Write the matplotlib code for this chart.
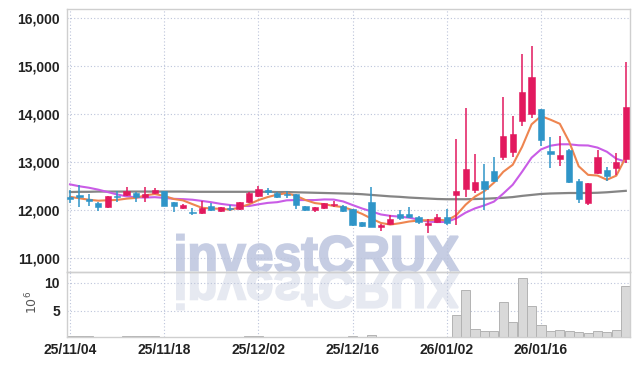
import matplotlib
matplotlib.use('Agg')
import matplotlib.pyplot as plt
import matplotlib.transforms as mtransforms
from matplotlib.textpath import TextPath
from matplotlib.patches import PathPatch
from matplotlib.font_manager import FontProperties
import numpy as np

dates = ['25/11/04', '25/11/05', '25/11/06', '25/11/07', '25/11/10', '25/11/11', '25/11/12', '25/11/13', '25/11/14', '25/11/17',
         '25/11/18', '25/11/19', '25/11/20', '25/11/21', '25/11/24', '25/11/25', '25/11/26', '25/11/27', '25/11/28', '25/12/01',
         '25/12/02', '25/12/03', '25/12/04', '25/12/05', '25/12/08', '25/12/09', '25/12/10', '25/12/11', '25/12/12', '25/12/15',
         '25/12/16', '25/12/17', '25/12/18', '25/12/19', '25/12/22', '25/12/23', '25/12/24', '25/12/26', '25/12/29', '25/12/30',
         '26/01/02', '26/01/05', '26/01/06', '26/01/07', '26/01/08', '26/01/09', '26/01/12', '26/01/13', '26/01/14', '26/01/15',
         '26/01/16', '26/01/19', '26/01/20', '26/01/21', '26/01/22', '26/01/23', '26/01/26', '26/01/27', '26/01/28', '26/01/29']

opens = [12270, 12310, 12230, 12150, 12060, 12290, 12310, 12370, 12270, 12350,
         12400, 12170, 12040, 11960, 11940, 12080, 11980, 12040, 12020, 12170,
         12290, 12420, 12370, 12340, 12330, 12080, 12000, 12040, 12100, 12080,
         12020, 11750, 12170, 11650, 11710, 11920, 11920, 11870, 11690, 11750,
         11870, 12310, 12440, 12420, 12600, 12810, 13100, 13210, 13850, 14000,
         14100, 13230, 13060, 13250, 12600, 12150, 12770, 12830, 12880, 13060]
highs = [12420, 12520, 12330, 12170, 12290, 12400, 12480, 12380, 12480, 12460,
         12400, 12170, 12130, 12040, 12190, 12150, 12070, 12120, 12170, 12380,
         12500, 12460, 12380, 12400, 12340, 12090, 12070, 12160, 12190, 12100,
         12030, 11760, 12480, 11710, 11900, 12000, 12060, 11880, 11810, 11920,
         12020, 13480, 14130, 13170, 12960, 13100, 14350, 13960, 15250, 15420,
         14120, 13520, 13540, 13270, 12650, 12570, 13250, 12900, 13190, 15080]
lows = [12150, 12060, 12080, 11980, 12040, 12170, 12300, 12170, 12170, 12340,
        12080, 11960, 12030, 11900, 11930, 11990, 11960, 11980, 12010, 12160,
        12280, 12310, 12260, 12250, 12020, 11990, 11960, 12030, 12060, 11970,
        11680, 11650, 11650, 11560, 11700, 11790, 11840, 11710, 11520, 11730,
        11690, 11700, 12270, 12350, 12000, 12590, 13040, 13100, 13750, 13920,
        13330, 12880, 12920, 12570, 12150, 12100, 12760, 12600, 12730, 12980]
closes = [12230, 12270, 12190, 12060, 12290, 12270, 12400, 12270, 12330, 12420,
          12080, 12080, 12120, 11940, 12040, 12000, 12060, 12020, 12170, 12370,
          12440, 12380, 12270, 12320, 12100, 12000, 12060, 12150, 12140, 11980,
          11690, 11670, 11650, 11690, 11810, 11830, 11850, 11750, 11730, 11870,
          11730, 12400, 12850, 12580, 12440, 12600, 13540, 13580, 14460, 14770,
          13460, 13170, 13150, 12580, 12230, 12560, 13100, 12710, 13000, 14150]
volumes = [0.45, 0.45, 0.45, 0.2, 0.2, 0.2, 0.45, 0.45, 0.45, 0.45,
           0.2, 0.2, 0.2, 0.2, 0.2, 0.2, 0.2, 0.2, 0.2, 0.45,
           0.45, 0.2, 0.2, 0.2, 0.2, 0.2, 0.2, 0.2, 0.2, 0.2,
           0.55, 0.2, 0.65, 0.2, 0.2, 0.2, 0.2, 0.2, 0.2, 0.2,
           0.2, 4.2, 8.8, 1.7, 1.4, 1.4, 6.5, 3.0, 10.8, 5.8,
           2.4, 1.4, 1.55, 1.4, 1.2, 1.0, 1.4, 1.2, 1.55, 9.4]
ma5 = [12280, 12250, 12220, 12200, 12208, 12216, 12242, 12258, 12312, 12338,
       12300, 12236, 12206, 12128, 12052, 12036, 12032, 12012, 12058, 12124,
       12212, 12276, 12326, 12356, 12302, 12214, 12150, 12126, 12090, 12066,
       12004, 11926, 11826, 11736, 11702, 11730, 11766, 11786, 11794, 11806,
       11786, 11896, 12116, 12286, 12400, 12574, 12802, 12948, 13324, 13790,
       13962, 13888, 13802, 13426, 12918, 12738, 12724, 12636, 12722, 13104]
ma10 = [12540, 12500, 12470, 12430, 12380, 12330, 12290, 12270, 12265, 12273,
        12258, 12239, 12232, 12220, 12195, 12168, 12134, 12109, 12093, 12088,
        12124, 12154, 12169, 12207, 12213, 12213, 12213, 12226, 12223, 12184,
        12109, 12038, 11976, 11913, 11884, 11867, 11846, 11806, 11765, 11754,
        11758, 11831, 11951, 12040, 12103, 12180, 12349, 12532, 12805, 13095,
        13268, 13345, 13375, 13375, 13354, 13350, 13306, 13219, 13073, 13011]
ma60 = [12380, 12385, 12385, 12390, 12390, 12390, 12390, 12390, 12390, 12390,
        12390, 12390, 12390, 12385, 12385, 12385, 12385, 12385, 12385, 12385,
        12385, 12385, 12380, 12380, 12375, 12370, 12365, 12360, 12355, 12350,
        12345, 12335, 12320, 12305, 12290, 12280, 12265, 12255, 12245, 12235,
        12230, 12230, 12230, 12235, 12240, 12250, 12260, 12275, 12300, 12320,
        12340, 12350, 12355, 12360, 12360, 12360, 12365, 12375, 12390, 12405]

price_ticks = [11000, 12000, 13000, 14000, 15000, 16000]
vol_ticks = [5, 10]

UP = '#e2195e'
DOWN = '#2f95c8'
GRID = '#bcc4da'
FRAME = '#cfcfcf'
LABEL_FONT = ['Liberation Sans Narrow', 'Liberation Sans', 'DejaVu Sans']

W, H = 639, 366
fig = plt.figure(figsize=(W / 100, H / 100), dpi=100, facecolor='white')

left, right = 66.7, 630.0
top_p, div, bot_v = 9.3, 272.3, 337.0
axp = fig.add_axes([left / W, 1 - div / H, (right - left) / W, (div - top_p) / H])
axv = fig.add_axes([left / W, 1 - bot_v / H, (right - left) / W, (bot_v - div) / H], sharex=axp)
for ax in (axp, axv):
    ax.set_facecolor('none')
    for s in ax.spines.values():
        s.set_color(FRAME)
        s.set_linewidth(1.0)

n = len(closes)
x = np.arange(n)
o = np.array(opens); c = np.array(closes); h = np.array(highs); l = np.array(lows)
up = c >= o
colors = np.where(up, UP, DOWN)

# wicks
axp.vlines(x, l, h, colors=colors, linewidth=1.1, zorder=3)
# bodies
bottoms = np.minimum(o, c)
heights = np.maximum(np.abs(c - o), 25)
axp.bar(x, heights, bottom=bottoms, width=0.66, color=colors, edgecolor=colors, linewidth=0.4, zorder=4)

# moving averages
axp.plot(x, ma60, color='#858585', linewidth=1.6, zorder=2)
axp.plot(x, ma10, color='#c95ce6', linewidth=1.5, zorder=2)
axp.plot(x, ma5, color='#ee8550', linewidth=1.5, zorder=2)

axp.set_xlim(-0.35, n - 0.55)
axp.set_ylim(10708, 16187)
axp.set_yticks(price_ticks)
axp.set_yticklabels([f'{t:,}' for t in price_ticks])
axp.grid(True, color=GRID, linestyle=(0, (1, 2)), linewidth=0.8)
axp.tick_params(axis='both', length=0)
axp.tick_params(axis='x', labelbottom=False)
axp.tick_params(axis='y', pad=4.8, labelsize=10, labelcolor='#222222')
for t in axp.get_yticklabels():
    t.set_family(LABEL_FONT); t.set_fontweight('bold')

# volume
axv.bar(x, volumes, width=0.97, color='#d9d9d9', edgecolor='#b3b3b3', linewidth=0.7, zorder=2)
axv.set_ylim(0.30, 11.91)
axv.set_yticks(vol_ticks)
axv.set_yticklabels([str(v) for v in vol_ticks])
tick_idx = list(range(0, n, 10))
axv.set_xticks(tick_idx)
axv.set_xticklabels([dates[i] for i in tick_idx])
axv.grid(True, color=GRID, linestyle=(0, (1, 2)), linewidth=0.8)
axv.tick_params(axis='both', length=0, labelsize=10, labelcolor='#222222')
axv.tick_params(axis='y', pad=4.8)
axv.tick_params(axis='x', pad=4.5)
for t in axv.get_yticklabels() + axv.get_xticklabels():
    t.set_family(LABEL_FONT); t.set_fontweight('bold')

fig.text(32 / W, 1 - 302 / H, r'$10^6$', rotation=90, ha='center', va='center',
         fontsize=9, color='#555555')

# watermark with reflection
fp = FontProperties(family=['Liberation Sans', 'DejaVu Sans'], weight='bold')
tp = TextPath((0, 0), 'investCRUX', size=100, prop=fp)
ext = tp.get_extents()
sx = 282.0 / ext.width
sy = 38.0 / ext.height
x0, base = 177.0, H - 272.0
tr_main = mtransforms.Affine2D().translate(-ext.x0, 0).scale(sx, sy).translate(x0, base)
tr_refl = mtransforms.Affine2D().translate(-ext.x0, 0).scale(sx, -sy).translate(x0, base)
pm = PathPatch(tr_main.transform_path(tp), facecolor='#c6cde3', edgecolor='#c6cde3', linewidth=1.4,
               transform=mtransforms.IdentityTransform(), zorder=-1)
pr = PathPatch(tr_refl.transform_path(tp), facecolor='#e6e9f1', edgecolor='#e6e9f1', linewidth=1.4,
               transform=mtransforms.IdentityTransform(), zorder=-1)
fig.patches.extend([pm, pr])

fig.savefig('out.png', dpi=100, facecolor='white')
